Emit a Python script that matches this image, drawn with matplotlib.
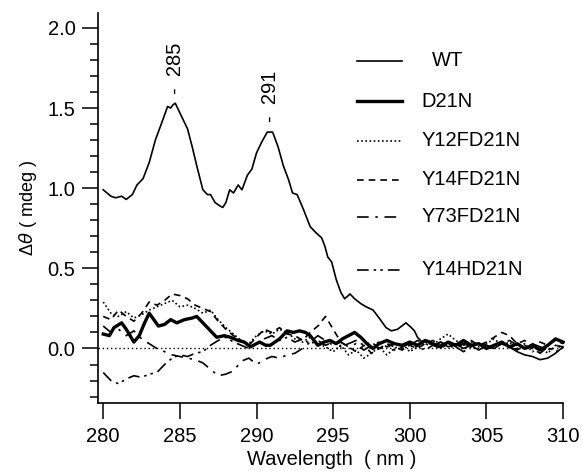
import matplotlib.pyplot as plt
from matplotlib.ticker import MultipleLocator

plt.rcParams['font.family'] = ['Liberation Sans', 'DejaVu Sans']

# WT (thin solid line)
wt_x = [280.0, 280.5, 280.8, 281.2, 281.5, 281.9, 282.2, 282.6, 283.0, 283.4,
        283.9, 284.2, 284.4, 284.55, 284.7, 285.1, 285.5, 285.8, 286.1, 286.5,
        286.8, 287.0, 287.3, 287.6, 287.8, 288.0, 288.25, 288.5, 288.8, 289.05,
        289.4, 289.7, 290.0, 290.35, 290.7, 291.05, 291.4, 291.75, 292.1, 292.35,
        292.65, 293.05, 293.5, 293.9, 294.25, 294.45, 294.65, 294.9, 295.2, 295.5,
        295.75, 296.1, 296.4, 296.8, 297.15, 297.6, 298.0, 298.45, 298.8, 299.2,
        299.75, 300.1, 300.3, 300.5, 300.8, 301.2, 301.6, 302.0, 302.5, 303.0,
        303.5, 304.0, 304.5, 305.0, 305.5, 306.0, 306.5, 307.0, 307.5, 308.0,
        308.5, 309.0, 309.5, 310.0]
wt_y = [0.99, 0.95, 0.94, 0.95, 0.93, 0.96, 1.02, 1.06, 1.16, 1.30,
        1.43, 1.51, 1.50, 1.52, 1.53, 1.45, 1.37, 1.26, 1.14, 0.99,
        0.96, 0.96, 0.91, 0.89, 0.88, 0.91, 0.99, 0.97, 1.02, 0.99,
        1.08, 1.12, 1.22, 1.29, 1.35, 1.35, 1.26, 1.14, 1.05, 0.97,
        0.96, 0.87, 0.76, 0.72, 0.69, 0.64, 0.57, 0.54, 0.43, 0.35,
        0.31, 0.34, 0.31, 0.28, 0.26, 0.24, 0.19, 0.13, 0.11, 0.12,
        0.16, 0.13, 0.11, 0.07, 0.04, 0.05, 0.02, 0.04, 0.01, 0.03,
        0.00, 0.02, -0.01, 0.02, 0.00, 0.03, 0.01, -0.02, -0.04, -0.05,
        -0.07, -0.06, -0.03, 0.01]

# D21N (thick solid line)
d21n_x = [280.0, 280.4, 280.7, 281.2, 281.5, 282.0, 282.35, 282.7, 283.0, 283.3,
          283.6, 284.0, 284.4, 284.8, 285.3, 285.8, 286.1, 286.5, 286.8, 287.4,
          287.9, 288.3, 288.8, 289.2, 289.6, 290.2, 290.6, 290.9, 291.5, 292.0,
          292.4, 292.8, 293.2, 293.5, 294.0, 294.4, 294.8, 295.2, 295.6, 296.0,
          296.4, 296.8, 297.2, 297.6, 298.0, 298.5, 299.0, 299.5, 300.0, 300.5,
          301.0, 301.5, 302.0, 302.5, 303.0, 303.5, 304.0, 304.5, 305.0, 305.5,
          306.0, 306.5, 307.0, 307.5, 308.0, 308.5, 309.0, 309.5, 310.0]
d21n_y = [0.09, 0.08, 0.13, 0.16, 0.12, 0.04, 0.08, 0.16, 0.22, 0.18,
          0.14, 0.15, 0.18, 0.16, 0.18, 0.19, 0.20, 0.16, 0.13, 0.07,
          0.08, 0.07, 0.05, 0.04, 0.01, 0.04, 0.02, 0.02, 0.06, 0.11,
          0.10, 0.11, 0.10, 0.08, 0.02, 0.04, 0.05, 0.03, 0.06, 0.08,
          0.10, 0.07, 0.03, 0.00, 0.03, 0.05, 0.03, 0.02, 0.04, 0.02,
          0.05, 0.03, 0.01, 0.04, 0.02, 0.05, 0.02, 0.03, 0.00, 0.02,
          0.04, 0.01, 0.03, 0.00, 0.02, -0.01, 0.02, 0.06, 0.04]

# mutants, sampled every 0.5 nm
grid_x = [280.0, 280.5, 281.0, 281.5, 282.0, 282.5, 283.0, 283.5, 284.0, 284.5,
          285.0, 285.5, 286.0, 286.5, 287.0, 287.5, 288.0, 288.5, 289.0, 289.5,
          290.0, 290.5, 291.0, 291.5, 292.0, 292.5, 293.0, 293.5, 294.0, 294.5,
          295.0, 295.5, 296.0, 296.5, 297.0, 297.5, 298.0, 298.5, 299.0, 299.5,
          300.0, 300.5, 301.0, 301.5, 302.0, 302.5, 303.0, 303.5, 304.0, 304.5,
          305.0, 305.5, 306.0, 306.5, 307.0, 307.5, 308.0, 308.5, 309.0, 309.5,
          310.0]
y12f = [0.29, 0.22, 0.20, 0.23, 0.19, 0.21, 0.24, 0.26, 0.28, 0.30,
        0.26, 0.27, 0.25, 0.22, 0.24, 0.18, 0.13, 0.09, 0.05, 0.03,
        0.08, 0.11, 0.09, 0.12, 0.10, 0.06, 0.04, 0.07, 0.03, 0.01,
        -0.02, 0.02, -0.04, -0.01, -0.06, -0.03, 0.01, -0.04, 0.00, 0.03,
        -0.02, 0.01, 0.04, 0.02, 0.06, 0.09, 0.05, 0.02, 0.04, 0.01,
        0.03, 0.06, 0.02, 0.04, 0.00, 0.03, -0.02, 0.01, -0.03, 0.02,
        0.00]
y14f = [0.20, 0.18, 0.24, 0.20, 0.17, 0.22, 0.29, 0.27, 0.30, 0.34,
        0.33, 0.31, 0.27, 0.25, 0.23, 0.17, 0.12, 0.08, 0.05, 0.02,
        0.07, 0.12, 0.10, 0.13, 0.09, 0.08, 0.05, 0.10, 0.14, 0.20,
        0.12, 0.04, 0.01, -0.02, 0.02, -0.03, 0.00, 0.03, 0.01, -0.01,
        0.02, 0.00, 0.03, 0.05, 0.02, 0.04, 0.01, 0.03, 0.05, 0.02,
        0.04, 0.07, 0.10, 0.08, 0.03, 0.05, 0.01, 0.04, 0.02, 0.05,
        0.03]
y73f = [0.14, 0.10, 0.12, 0.08, 0.11, 0.06, 0.03, 0.00, -0.02, -0.04,
        -0.05, -0.06, -0.07, -0.09, -0.13, -0.17, -0.16, -0.14, -0.08, -0.06,
        -0.10, -0.07, -0.05, -0.06, -0.04, -0.03, 0.00, 0.04, 0.08, 0.05,
        0.02, 0.04, 0.01, 0.03, -0.01, 0.02, 0.04, 0.01, 0.03, 0.00,
        0.02, 0.05, 0.03, 0.01, 0.04, 0.02, 0.00, 0.03, 0.01, 0.04,
        0.02, 0.00, 0.03, 0.05, 0.02, 0.00, 0.03, 0.01, -0.01, 0.02,
        0.01]
y14h = [-0.15, -0.20, -0.22, -0.19, -0.17, -0.18, -0.16, -0.15, -0.10, -0.06,
        -0.04, -0.05, -0.03, -0.02, 0.02, 0.05, 0.07, 0.04, 0.02, 0.00,
        0.03, 0.06, 0.08, 0.05, 0.07, 0.04, 0.06, 0.03, 0.05, 0.02,
        0.04, 0.01, 0.03, 0.05, 0.02, 0.04, 0.00, 0.02, -0.01, 0.01,
        0.03, 0.01, -0.01, 0.02, 0.00, 0.03, 0.01, -0.02, 0.01, 0.03,
        0.00, 0.02, 0.04, 0.01, -0.01, 0.02, 0.00, -0.03, 0.01, -0.02,
        0.00]

names = ['WT', 'D21N', 'Y12FD21N', 'Y14FD21N', 'Y73FD21N', 'Y14HD21N']
styles = ['-', '-', (0, (1, 1.5)), (0, (4, 3)), (0, (7, 4, 1.5, 4)),
          (0, (7, 3, 1.5, 2.5, 1.5, 3))]
widths = [1.2, 2.4, 1.2, 1.2, 1.2, 1.2]
legend_y = [0.877, 0.774, 0.672, 0.572, 0.477, 0.341]

fs = 14.5

fig = plt.figure(figsize=(5.82, 4.76), dpi=100)
ax = fig.add_axes([0.1692, 0.1534, 0.8015, 0.8193])

ax.axhline(0, color='black', lw=1.0, ls=(0, (1, 2)))
series = [(wt_x, wt_y), (d21n_x, d21n_y), (grid_x, y12f), (grid_x, y14f),
          (grid_x, y73f), (grid_x, y14h)]
for (xs, ys), ls, lw in zip(series, styles, widths):
    ax.plot(xs, ys, color='black', ls=ls, lw=lw)

# legend drawn by hand
for name, ls, lw, ly in zip(names, styles, widths, legend_y):
    ax.plot([0.554, 0.651], [ly, ly], transform=ax.transAxes, color='black',
            ls=ls, lw=lw, clip_on=False)
    tx = 0.715 if name == 'WT' else 0.693
    ax.text(tx, ly, name, transform=ax.transAxes, fontsize=fs, va='center')

# peak marks
ax.text(284.7, 1.59, '-  285', rotation=90, ha='center', va='bottom', fontsize=fs)
ax.text(290.9, 1.41, '-  291', rotation=90, ha='center', va='bottom', fontsize=fs)

ax.set_xlim(279.69, 310.12)
ax.set_ylim(-0.34, 2.093)
ax.set_xticks([280, 285, 290, 295, 300, 305, 310])
ax.yaxis.set_major_locator(MultipleLocator(0.5))
ax.yaxis.set_minor_locator(MultipleLocator(0.1))
ax.yaxis.set_major_formatter(plt.FormatStrFormatter('%.1f'))
ax.spines['top'].set_visible(False)
ax.spines['right'].set_visible(False)
ax.spines['left'].set_linewidth(1.2)
ax.spines['bottom'].set_linewidth(1.2)
ax.spines['bottom'].set_bounds(279.69, 310.0)
ax.tick_params(axis='both', which='major', length=11.5, width=1.1,
               labelsize=fs, direction='out')
ax.tick_params(axis='x', pad=6)
ax.tick_params(axis='y', pad=5)
ax.tick_params(axis='y', which='minor', length=5.8, width=1.1)

ax.set_xlabel('Wavelength  ( nm )', fontsize=fs, labelpad=3)
ax.set_ylabel(r'Δ$\theta$ ( mdeg )', fontsize=13, labelpad=6)

plt.savefig('out.png', dpi=100)
